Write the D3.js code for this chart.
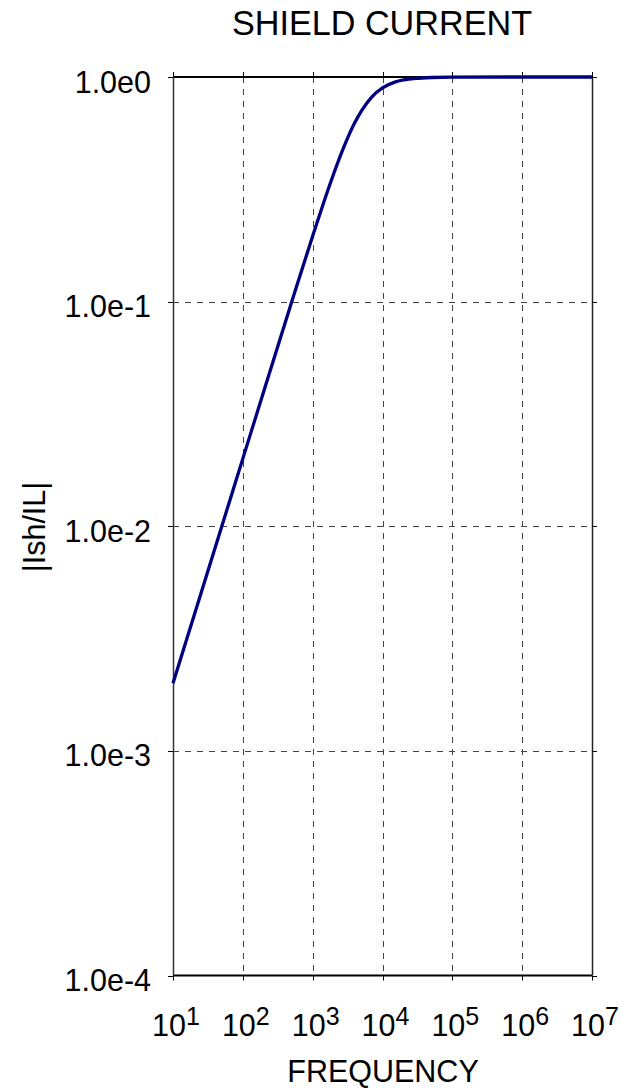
<!DOCTYPE html>
<html>
<head>
<meta charset="utf-8">
<script src="https://cdn.jsdelivr.net/npm/d3@7"></script>
<style>
  html, body { margin: 0; padding: 0; background: #fff; }
  svg { display: block; font-family: "Liberation Sans", Arial, sans-serif; }
</style>
</head>
<body>
<svg id="chart" width="623" height="1089"></svg>
<script>
// Shield current ratio |Ish/IL| versus frequency (Hz)
const frequency = [10, 20, 50, 100, 200, 500, 1000, 1500, 2000, 3000, 4000, 5000, 7000,
                   10000, 15000, 20000, 30000, 50000, 100000, 1000000, 10000000];
const ratio = [0.002, 0.004, 0.01, 0.02, 0.04, 0.0995, 0.196, 0.287, 0.371, 0.514, 0.625,
               0.707, 0.814, 0.894, 0.949, 0.970, 0.986, 0.995, 0.999, 1.0, 1.0];

const xTickValues = [1e1, 1e2, 1e3, 1e4, 1e5, 1e6, 1e7];
const xTickExponents = ["1", "2", "3", "4", "5", "6", "7"];
const yTickValues = [1, 1e-1, 1e-2, 1e-3, 1e-4];
const yTickLabels = ["1.0e0", "1.0e-1", "1.0e-2", "1.0e-3", "1.0e-4"];

const chartTitle = "SHIELD CURRENT";
const xTitle = "FREQUENCY";
const yTitle = "|Ish/IL|";

const svg = d3.select("#chart");
const plotL = 173, plotR = 592, plotT = 77, plotB = 975.5;

const x = d3.scaleLog().domain([1e1, 1e7]).range([plotL, plotR]);
const y = d3.scaleLog().domain([1e-4, 1]).range([plotB, plotT]);

// dashed grid
const grid = svg.append("g").attr("stroke", "#444").attr("stroke-width", 1)
  .attr("stroke-dasharray", "6,6");
grid.selectAll("line.gx").data(xTickValues.slice(1, -1)).join("line")
  .attr("x1", d => Math.round(x(d)) + 0.5).attr("x2", d => Math.round(x(d)) + 0.5)
  .attr("y1", plotT).attr("y2", plotB);
grid.selectAll("line.gy").data(yTickValues.slice(1, -1)).join("line")
  .attr("x1", plotL).attr("x2", plotR)
  .attr("y1", d => Math.round(y(d)) + 0.5).attr("y2", d => Math.round(y(d)) + 0.5);

// outward ticks on all four sides
const tickLen = 5;
const tk = svg.append("g").attr("stroke", "#000").attr("stroke-width", 1);
xTickValues.forEach(v => {
  const px = Math.round(x(v)) + 0.5;
  tk.append("line").attr("x1", px).attr("x2", px).attr("y1", plotT - tickLen).attr("y2", plotT);
  tk.append("line").attr("x1", px).attr("x2", px).attr("y1", plotB).attr("y2", plotB + tickLen);
});
yTickValues.forEach(v => {
  const py = Math.round(y(v)) + 0.5;
  tk.append("line").attr("x1", plotL - tickLen).attr("x2", plotL).attr("y1", py).attr("y2", py);
  tk.append("line").attr("x1", plotR).attr("x2", plotR + tickLen).attr("y1", py).attr("y2", py);
});

// frame
svg.append("line").attr("x1", plotL).attr("x2", plotR).attr("y1", plotT).attr("y2", plotT)
  .attr("stroke", "#000").attr("stroke-width", 2);
svg.append("line").attr("x1", plotL).attr("x2", plotR).attr("y1", plotB).attr("y2", plotB)
  .attr("stroke", "#000").attr("stroke-width", 2);
svg.append("line").attr("x1", plotL + 0.5).attr("x2", plotL + 0.5).attr("y1", plotT).attr("y2", plotB)
  .attr("stroke", "#333").attr("stroke-width", 1.5);
svg.append("line").attr("x1", plotR + 0.5).attr("x2", plotR + 0.5).attr("y1", plotT).attr("y2", plotB)
  .attr("stroke", "#222").attr("stroke-width", 1.5);

// curve
const line = d3.line()
  .x((d, i) => x(frequency[i]))
  .y(d => y(d))
  .curve(d3.curveMonotoneX);
svg.append("path").datum(ratio)
  .attr("d", line)
  .attr("fill", "none")
  .attr("stroke", "#000080")
  .attr("stroke-width", 3.3)
  .attr("stroke-linejoin", "round");

// y tick labels
svg.append("g").selectAll("text").data(yTickValues).join("text")
  .attr("x", 151).attr("y", d => y(d) + 15.5)
  .attr("text-anchor", "end")
  .attr("font-size", 30.5)
  .attr("fill", "#000")
  .text((d, i) => yTickLabels[i]);

// x tick labels: 10 with superscript exponent
const xl = svg.append("g").selectAll("text").data(xTickValues).join("text")
  .attr("x", d => x(d) + 3).attr("y", 1036)
  .attr("text-anchor", "middle")
  .attr("font-size", 30.5)
  .attr("fill", "#000");
xl.append("tspan").text("10");
xl.append("tspan").attr("font-size", 25).attr("dy", -11)
  .text((d, i) => xTickExponents[i]);

// titles
svg.append("text").attr("x", 382).attr("y", 35).attr("text-anchor", "middle")
  .attr("font-size", 34.2).attr("fill", "#000").text(chartTitle);
svg.append("text").attr("x", 383).attr("y", 1082).attr("text-anchor", "middle")
  .attr("font-size", 30.5).attr("fill", "#000").text(xTitle);
svg.append("text")
  .attr("transform", "translate(45,527) rotate(-90)")
  .attr("text-anchor", "middle")
  .attr("font-size", 30.5).attr("fill", "#000").text(yTitle);
</script>
</body>
</html>
